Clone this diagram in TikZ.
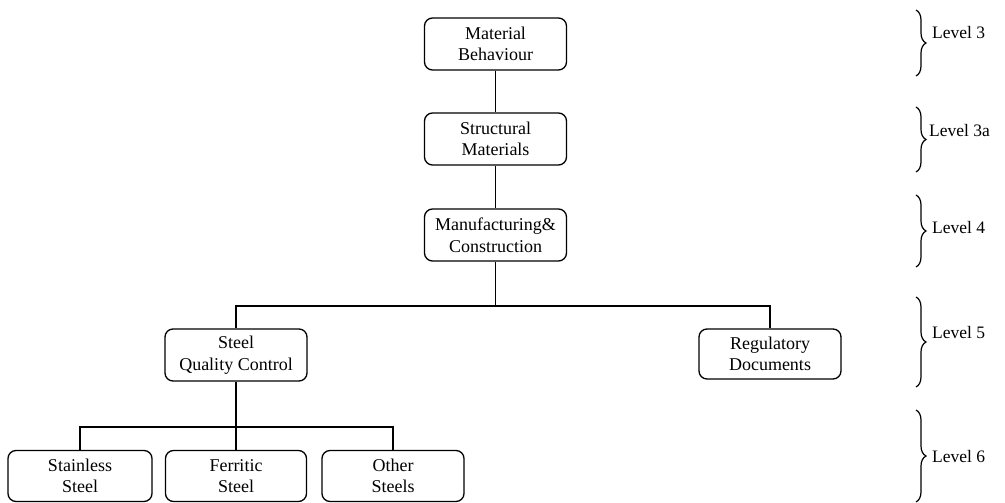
\documentclass[tikz,border=0pt]{standalone}
\usepackage{fontspec}
\setmainfont{Liberation Serif}
\usetikzlibrary{decorations.pathreplacing}
\begin{document}
\begin{tikzpicture}[x=1pt,y=-1pt,
  every node/.style={font=\fontsize{18}{21.5}\selectfont},
  box/.style={draw,line width=1.3pt,rounded corners=8pt,align=center,
    minimum width=142pt,minimum height=52pt,inner sep=0pt},
  link/.style={line width=1.3pt},
  lvbrace/.style={line width=1.2pt,decorate,
    decoration={brace,amplitude=10pt,aspect=0.5}},
  lvtext/.style={anchor=west,inner sep=0pt,font=\fontsize{17.5}{21}\selectfont}]
\useasboundingbox (0,0) rectangle (1005,503);

% hierarchy boxes
\node[box] (mb)  at (495.5,44)  {Material\\Behaviour};
\node[box] (sm)  at (495.5,139) {Structural\\Materials};
\node[box] (mc)  at (495.5,235) {Manufacturing\&\\Construction};
\node[box] (sqc) at (236,355)   {Steel\\Quality Control};
\node[box,minimum height=50pt] (rd) at (770,354) {Regulatory\\Documents};
\node[box,minimum width=144pt,minimum height=51pt] (ss) at (80,476)  {Stainless\\Steel};
\node[box,minimum width=141pt,minimum height=51pt] (fs) at (236,476) {Ferritic\\Steel};
\node[box,minimum width=142pt,minimum height=51pt] (os) at (393,476) {Other\\Steels};

% junction points of the branching lines
\coordinate (j1) at (495.5,306);
\coordinate (j2) at (236,427);

% connectors
\draw[link] (mb) -- (sm);
\draw[link] (sm) -- (mc);
\draw[link] (mc) -- (j1);
\draw[link] (sqc.north) |- (j1) -| (rd.north);
\draw[link] (sqc) -- (fs);
\draw[link] (ss.north) |- (j2) -| (os.north);

% level braces
\coordinate (b3t) at (916,10);   \coordinate (b3b) at (916,76);
\coordinate (b3at) at (916,107); \coordinate (b3ab) at (916,172);
\coordinate (b4t) at (916,195);  \coordinate (b4b) at (916,267);
\coordinate (b5t) at (916,297);  \coordinate (b5b) at (916,387);
\coordinate (b6t) at (916,410);  \coordinate (b6b) at (916,502);
\draw[lvbrace] (b3t) -- (b3b);
\draw[lvbrace] (b3at) -- (b3ab);
\draw[lvbrace] (b4t) -- (b4b);
\draw[lvbrace] (b5t) -- (b5b);
\draw[lvbrace] (b6t) -- (b6b);

% level labels
\node[lvtext] (l3)  at (932,33)  {Level 3};
\node[lvtext] (l3a) at (929,131) {Level 3a};
\node[lvtext] (l4)  at (932,228) {Level 4};
\node[lvtext] (l5)  at (932,333) {Level 5};
\node[lvtext] (l6)  at (932,457) {Level 6};
\end{tikzpicture}
\end{document}
